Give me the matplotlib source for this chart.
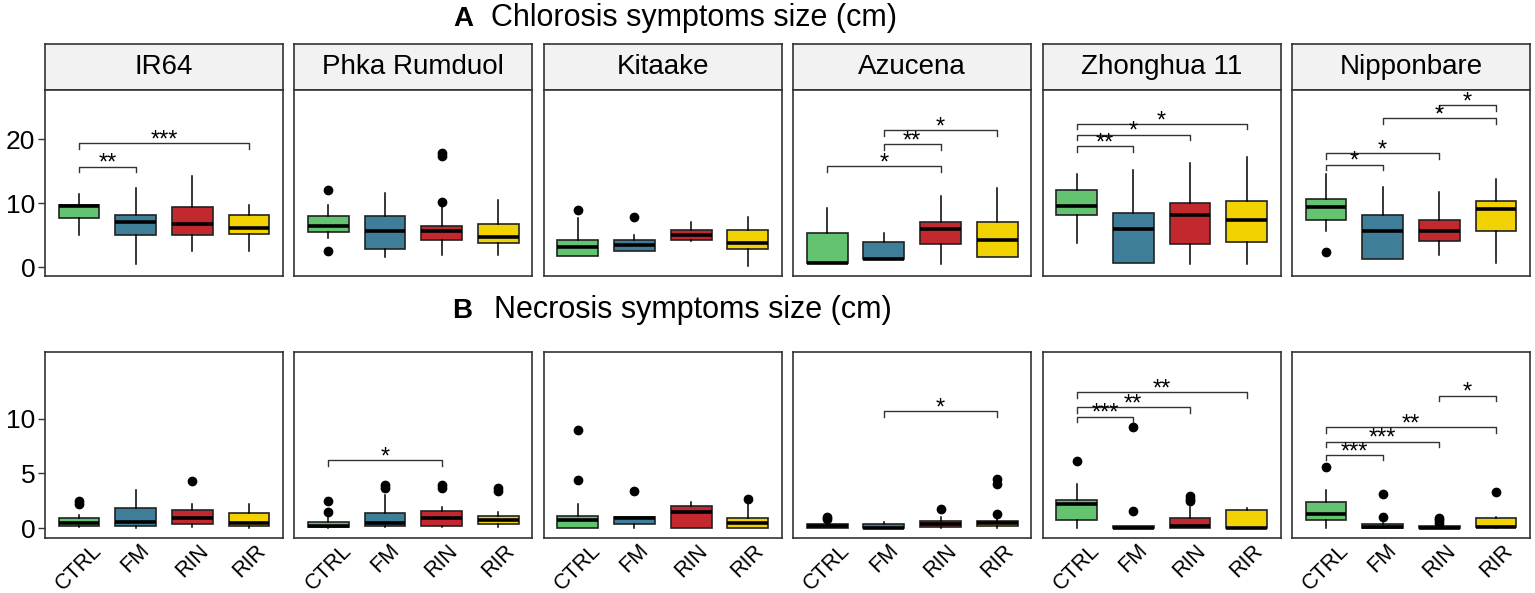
import matplotlib
matplotlib.use('Agg')
import matplotlib.pyplot as plt

plt.rcParams['font.family'] = ['Liberation Sans', 'DejaVu Sans']

varieties = ['IR64', 'Phka Rumduol', 'Kitaake', 'Azucena', 'Zhonghua 11', 'Nipponbare']
treatments = ['CTRL', 'FM', 'RIN', 'RIR']
colors = ['#63C371', '#3F7E99', '#C4282F', '#F2D200']

# chlorosis size (cm), one row per variety, one value per treatment
chl_q1 = [[7.6, 4.95, 4.95, 5.2], [5.5, 2.9, 4.3, 3.8], [1.8, 2.45, 4.3, 2.9],
          [0.7, 1.25, 3.6, 1.5], [8.2, 0.7, 3.6, 3.85], [7.3, 1.25, 4.1, 5.6]]
chl_med = [[9.5, 7.0, 6.8, 6.1], [6.45, 5.6, 5.6, 4.7], [3.2, 3.5, 5.0, 3.8],
           [0.7, 1.25, 5.9, 4.2], [9.5, 5.9, 8.2, 7.3], [9.4, 5.6, 5.6, 9.1]]
chl_q3 = [[9.7, 8.2, 9.4, 8.2], [8.0, 8.0, 6.45, 6.8], [4.3, 4.3, 5.8, 5.8],
          [5.25, 3.85, 7.0, 7.0], [12.0, 8.5, 9.95, 10.3], [10.6, 8.2, 7.3, 10.3]]
chl_lo = [[5.0, 0.4, 2.45, 2.45], [4.5, 1.6, 1.9, 1.9], [1.8, 2.45, 4.1, 0.15],
          [0.7, 1.25, 0.4, 1.5], [3.7, 0.7, 0.4, 0.4], [5.6, 1.25, 1.9, 0.7]]
chl_hi = [[11.4, 12.3, 14.2, 9.7], [9.7, 11.6, 9.4, 10.5], [7.6, 4.95, 7.0, 7.9],
          [9.3, 5.25, 11.1, 12.3], [14.5, 15.2, 16.3, 17.2], [14.6, 12.5, 11.7, 13.7]]
chl_out = [[[], [], [], []],
           [[12.1, 2.45], [], [17.4, 17.9, 10.2], []],
           [[9.0], [7.8], [], []],
           [[], [], [], []],
           [[], [], [], []],
           [[2.4], [], [], []]]
# (group a, group b, label, bracket height)
chl_sig = [[(0, 1, '**', 15.7), (0, 3, '***', 19.4)],
           [],
           [],
           [(0, 2, '*', 15.8), (1, 2, '**', 19.2), (1, 3, '*', 21.4)],
           [(0, 1, '**', 18.95), (0, 2, '*', 20.7), (0, 3, '*', 22.4)],
           [(0, 1, '*', 16.0), (0, 2, '*', 17.8), (1, 3, '*', 23.3), (2, 3, '*', 25.3)]]

# necrosis size (cm)
nec_q1 = [[0.24, 0.24, 0.36, 0.24], [0.06, 0.24, 0.24, 0.36], [0.0, 0.36, 0.0, 0.0],
          [0.0, 0.0, 0.06, 0.18], [0.79, 0.0, 0.0, 0.0], [0.79, 0.0, 0.0, 0.06]]
nec_med = [[0.48, 0.57, 0.97, 0.48], [0.2, 0.48, 0.97, 0.73], [0.73, 0.95, 1.45, 0.45],
           [0.18, 0.0, 0.36, 0.48], [2.24, 0.0, 0.2, 0.0], [1.27, 0.06, 0.0, 0.15]]
nec_q3 = [[0.97, 1.84, 1.7, 1.39], [0.54, 1.39, 1.57, 1.12], [1.12, 1.05, 2.02, 0.97],
          [0.4, 0.4, 0.63, 0.67], [2.54, 0.18, 0.9, 1.63], [2.36, 0.4, 0.18, 0.93]]
nec_lo = [[0.1, 0.0, 0.1, 0.0], [0.0, 0.1, 0.1, 0.1], [0.0, 0.0, 0.0, 0.0],
          [0.0, 0.0, 0.0, 0.0], [0.0, 0.0, 0.0, 0.0], [0.0, 0.0, 0.0, 0.0]]
nec_hi = [[1.24, 3.45, 2.18, 2.24], [1.2, 3.0, 1.93, 1.5], [2.24, 1.05, 2.39, 2.5],
          [0.73, 0.6, 1.0, 0.85], [4.0, 0.18, 1.93, 1.8], [3.45, 0.5, 0.18, 1.0]]
nec_out = [[[2.2, 2.45], [], [4.3], []],
           [[1.5, 2.45], [3.7, 3.9], [3.7, 3.9], [3.4, 3.7]],
           [[4.4, 8.95], [3.4], [], [2.7]],
           [[0.8, 1.0], [], [1.75], [1.3, 4.0, 4.5]],
           [[6.15], [1.6, 9.2], [2.5, 2.7, 2.9], []],
           [[5.56], [1.0, 3.08], [0.5, 0.7, 0.9], [3.35]]]
nec_sig = [[],
           [(0, 2, '*', 6.2)],
           [],
           [(1, 3, '*', 10.7)],
           [(0, 1, '***', 10.2), (0, 2, '**', 11.06), (0, 3, '**', 12.4)],
           [(0, 1, '***', 6.7), (0, 2, '***', 7.9), (0, 3, '**', 9.2), (2, 3, '*', 12.1)]]

W, H = 1535, 593
fig = plt.figure(figsize=(W / 100, H / 100), dpi=100)


def px_axes(left, top, width, height):
    return fig.add_axes([left / W, 1 - (top + height) / H, width / W, height / H])


def draw_panel(ax, q1, med, q3, lo, hi, out, sig, ylim, yticks, first, bottom_row):
    stats = []
    for k in range(4):
        stats.append(dict(q1=q1[k], med=med[k], q3=q3[k], whislo=lo[k], whishi=hi[k],
                          fliers=out[k], label=treatments[k]))
    bp = ax.bxp(stats, positions=[1, 2, 3, 4], widths=0.72, patch_artist=True,
                showcaps=False,
                boxprops=dict(edgecolor='#222222', linewidth=1.2),
                medianprops=dict(color='black', linewidth=2.6),
                whiskerprops=dict(color='black', linewidth=1.1),
                flierprops=dict(marker='o', markerfacecolor='black',
                                markeredgecolor='black', markersize=6))
    for patch, c in zip(bp['boxes'], colors):
        patch.set_facecolor(c)
    tip = 0.03 * (ylim[1] - ylim[0])
    for a, b, lab, y in sig:
        ax.plot([a + 1, a + 1, b + 1, b + 1], [y - tip, y, y, y - tip],
                color='#333333', lw=1.0)
        ax.annotate(lab, ((a + b) / 2 + 1, y), xytext=(0, 2), textcoords='offset points',
                    ha='center', va='center', fontsize=17)
    ax.set_xlim(0.4, 4.6)
    ax.set_ylim(*ylim)
    for s in ax.spines.values():
        s.set_color('#333333')
        s.set_linewidth(1.2)
    if first:
        ax.set_yticks(yticks)
        ax.tick_params(axis='y', length=5, width=1, color='#333333', labelsize=19, pad=2)
    else:
        ax.set_yticks([])
    if bottom_row:
        ax.set_xticks([1, 2, 3, 4])
        ax.set_xticklabels(treatments, rotation=45, ha='center', va='top', fontsize=15.5)
        ax.tick_params(axis='x', length=0, pad=1.5)
    else:
        ax.set_xticks([])


for i, v in enumerate(varieties):
    left = 45 + 249.4 * i
    # strip with the variety name
    st = px_axes(left, 44, 238, 46)
    st.set_facecolor('#F2F2F2')
    st.set_xticks([])
    st.set_yticks([])
    for s in st.spines.values():
        s.set_color('#333333')
        s.set_linewidth(1.2)
    st.text(0.5, 0.5, v, ha='center', va='center', fontsize=20, transform=st.transAxes)

    ax = px_axes(left, 90, 238, 186)
    draw_panel(ax, chl_q1[i], chl_med[i], chl_q3[i], chl_lo[i], chl_hi[i], chl_out[i],
               chl_sig[i], (-1.4, 27.7), [0, 10, 20], i == 0, False)

    ax2 = px_axes(left, 352, 238, 186)
    draw_panel(ax2, nec_q1[i], nec_med[i], nec_q3[i], nec_lo[i], nec_hi[i], nec_out[i],
               nec_sig[i], (-0.9, 16.1), [0, 5, 10], i == 0, True)

fig.text(453 / W, 1 - 26 / H, 'A', fontsize=20, fontweight='bold', va='baseline')
fig.text(491 / W, 1 - 26 / H, 'Chlorosis symptoms size (cm)', fontsize=22, va='baseline')
fig.text(452 / W, 1 - 318 / H, 'B', fontsize=20, fontweight='bold', va='baseline')
fig.text(494 / W, 1 - 318 / H, 'Necrosis symptoms size (cm)', fontsize=22, va='baseline')

fig.savefig('out.png', dpi=100)
